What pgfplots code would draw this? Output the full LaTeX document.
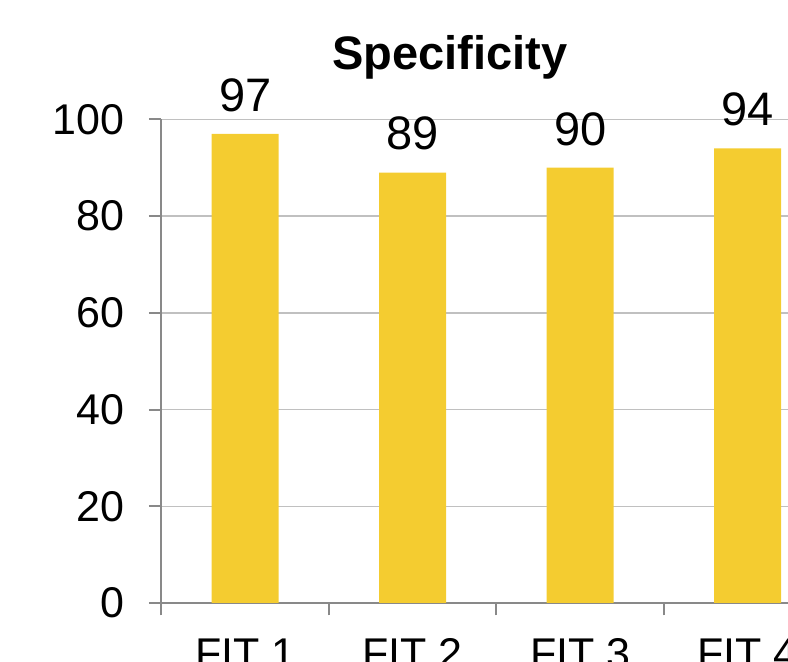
\documentclass[border=0pt]{standalone}
\usepackage{fontspec}
\setmainfont{Liberation Sans}
\usepackage{pgfplots}
\pgfplotsset{compat=1.18}
\definecolor{barc}{RGB}{244,204,48}
\definecolor{axc}{RGB}{137,137,137}
\definecolor{gridc}{RGB}{192,192,192}
\begin{document}
\begin{tikzpicture}
\begin{axis}[
  at={(0,0)}, anchor=south west,
  scale only axis,
  width=201pt, height=145.1pt,
  xmin=-0.5, xmax=3.5, ymin=0, ymax=100,
  axis x line=bottom, axis y line=left,
  axis line style={-, color=axc, line width=0.6pt},
  xtick={0,1,2,3},
  xticklabels={FIT 1,FIT 2,FIT 3,FIT 4},
  minor xtick={-0.5,0.5,1.5,2.5,3.5},
  ytick={0,20,40,60,80,100},
  tick align=outside,
  major tick length=3.75pt,
  minor tick length=3.75pt,
  major x tick style={draw=none},
  tick style={color=axc, line width=0.6pt},
  ymajorgrids,
  grid style={color=gridc, line width=0.45pt},
  /pgf/number format/assume math mode=true,
  ticklabel style={font=\fontsize{12.9pt}{14pt}\selectfont, text=black},
  xticklabel style={yshift=-3.4pt},
  yticklabel style={xshift=-3.8pt},
  ybar, bar width=20.1pt,
  clip=false,
  nodes near coords,
  every node near coord/.append style={font=\fontsize{14.1pt}{16pt}\selectfont, text=black, yshift=3.1pt},
]
\addplot[fill=barc, draw=none] coordinates {(0,97) (1,89) (2,90) (3,94)};
\node[anchor=base, font=\bfseries\fontsize{14.1pt}{16pt}\selectfont] at (axis cs:1.222,110.3) {Specificity};
\end{axis}
\pgfresetboundingbox
\useasboundingbox (-48.45pt,-17.7pt) rectangle (187.95pt,180.9pt);
\end{tikzpicture}
\end{document}
